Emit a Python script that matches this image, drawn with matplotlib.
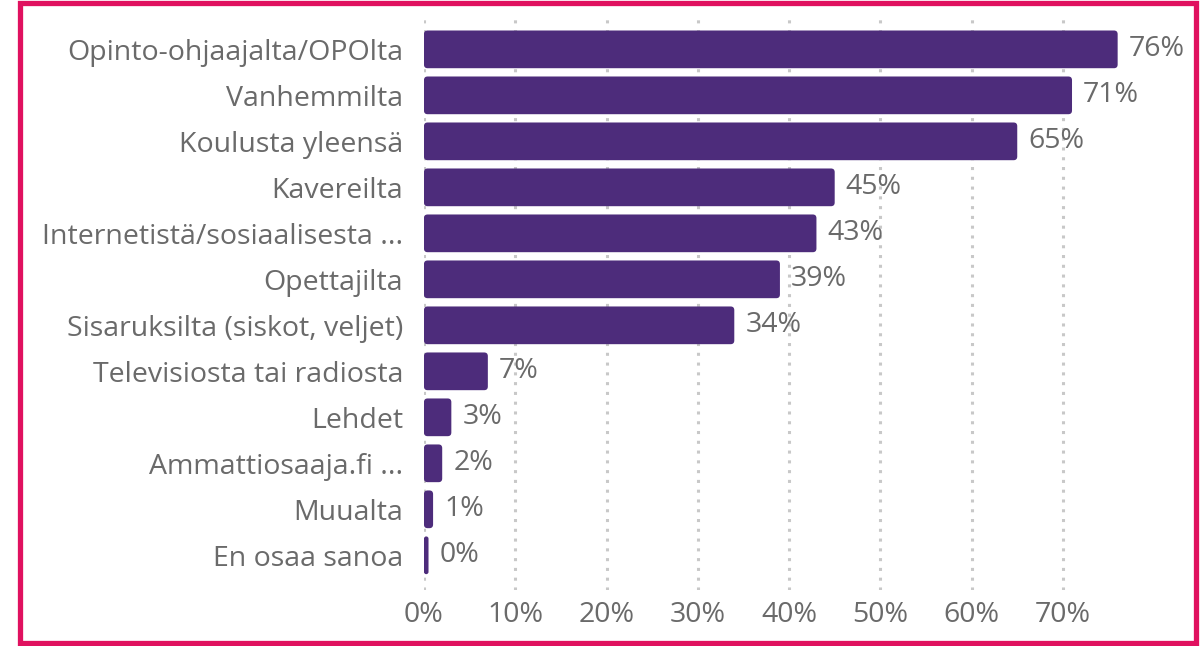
import matplotlib.pyplot as plt
from matplotlib.patches import Rectangle, FancyBboxPatch
from matplotlib.ticker import FuncFormatter

categories = [
    "Opinto-ohjaajalta/OPOlta",
    "Vanhemmilta",
    "Koulusta yleensä",
    "Kavereilta",
    "Internetistä/sosiaalisesta ...",
    "Opettajilta",
    "Sisaruksilta (siskot, veljet)",
    "Televisiosta tai radiosta",
    "Lehdet",
    "Ammattiosaaja.fi ...",
    "Muualta",
    "En osaa sanoa",
]
values = [76, 71, 65, 45, 43, 39, 34, 7, 3, 2, 1, 0.5]
value_labels = ["76%", "71%", "65%", "45%", "43%", "39%", "34%", "7%", "3%", "2%", "1%", "0%"]
x_ticks = [0, 10, 20, 30, 40, 50, 60, 70]

BAR_COLOR = "#4d2c7b"
TEXT_COLOR = "#6a6a6a"
BORDER_COLOR = "#e0115f"
FS = 20.5

plt.rcParams["font.family"] = ["Open Sans", "DejaVu Sans"]

fig = plt.figure(figsize=(12.01, 6.46), dpi=100)
ax = fig.add_axes([0.353, 0.087, 0.608, 0.890])

y = list(range(len(categories)))
bars = ax.barh(y, values, height=0.82, color=BAR_COLOR, zorder=2)

# swap the plain bars for slightly rounded ones
for b in bars:
    x0, y0, w, h = b.get_x(), b.get_y(), b.get_width(), b.get_height()
    r = min(0.4, w / 2)
    rounded = FancyBboxPatch((x0, y0), w, h,
                             boxstyle=f"round,pad=0,rounding_size={r}",
                             mutation_aspect=0.2, facecolor=BAR_COLOR,
                             edgecolor="none", zorder=2)
    ax.add_patch(rounded)
    b.set_visible(False)

for yi, v, lab in zip(y, values, value_labels):
    ax.text(v + 1.2, yi, lab, va="center", ha="left", fontsize=FS, color=TEXT_COLOR)

ax.set_yticks(y)
ax.set_yticklabels(categories, fontsize=FS, color=TEXT_COLOR)
ax.set_xticks(x_ticks)
ax.xaxis.set_major_formatter(FuncFormatter(lambda v, _: f"{v:.0f}%"))
ax.tick_params(axis="x", labelsize=FS, labelcolor=TEXT_COLOR, length=0, pad=8)
ax.tick_params(axis="y", length=0, pad=15)

ax.set_xlim(0, 80)
ax.set_ylim(11.75, -0.75)
ax.grid(axis="x", color="#c8c8c8", linestyle=(0, (1, 2.2)), linewidth=2.2, zorder=0)
for s in ax.spines.values():
    s.set_visible(False)

fig.patches.append(Rectangle((20 / 1201, 3 / 646), 1176 / 1201, 640 / 646,
                             transform=fig.transFigure, fill=False,
                             edgecolor=BORDER_COLOR, linewidth=3.8))

fig.savefig("out.png", dpi=100)
